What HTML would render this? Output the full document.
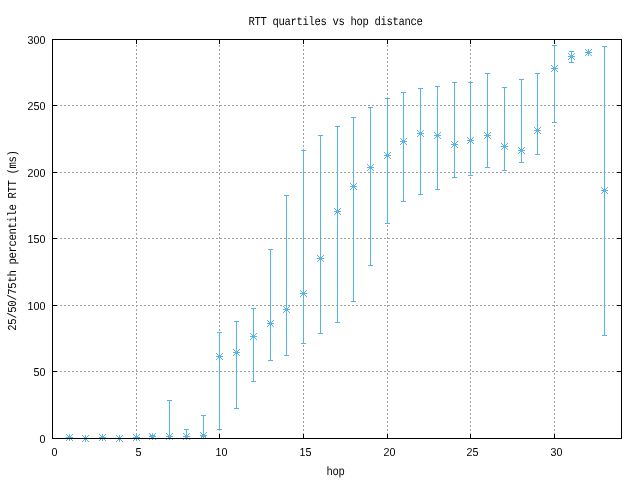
<!DOCTYPE html>
<html lang="en"><head><meta charset="utf-8"><title>RTT quartiles vs hop distance</title>
<style>html,body{margin:0;padding:0;background:#fff;overflow:hidden}svg{display:block}text{font-family:"Liberation Mono", monospace;font-size:12.15px;fill:#000;white-space:pre;text-rendering:geometricPrecision}.z{font-family:"Liberation Sans",sans-serif;font-size:11.63px}</style></head><body>
<svg width="640" height="480" viewBox="0 0 640 480" shape-rendering="crispEdges">
<rect width="640" height="480" fill="#fff"/>
<defs><g id="s"><rect x="-3" y="0" width="7" height="1"/><rect x="0" y="-3" width="1" height="7"/><rect x="-3" y="-3" width="1" height="1"/><rect x="-3" y="3" width="1" height="1"/><rect x="-2" y="-2" width="1" height="1"/><rect x="-2" y="2" width="1" height="1"/><rect x="-1" y="-1" width="1" height="1"/><rect x="-1" y="1" width="1" height="1"/><rect x="1" y="1" width="1" height="1"/><rect x="1" y="-1" width="1" height="1"/><rect x="2" y="2" width="1" height="1"/><rect x="2" y="-2" width="1" height="1"/><rect x="3" y="3" width="1" height="1"/><rect x="3" y="-3" width="1" height="1"/></g></defs>
<g stroke="#a0a0a0" stroke-width="1" stroke-dasharray="2 2" fill="none"><path d="M52 371.5H622"/><path d="M52 305.5H622"/><path d="M52 238.5H622"/><path d="M52 172.5H622"/><path d="M52 105.5H622"/><path d="M136.5 439V39"/><path d="M219.5 439V39"/><path d="M303.5 439V39"/><path d="M387.5 439V39"/><path d="M470.5 439V39"/><path d="M554.5 439V39"/></g>
<g fill="#000"><rect x="136" y="434" width="1" height="4"/><rect x="136" y="40" width="1" height="4"/><rect x="219" y="434" width="1" height="4"/><rect x="219" y="40" width="1" height="4"/><rect x="303" y="434" width="1" height="4"/><rect x="303" y="40" width="1" height="4"/><rect x="387" y="434" width="1" height="4"/><rect x="387" y="40" width="1" height="4"/><rect x="470" y="434" width="1" height="4"/><rect x="470" y="40" width="1" height="4"/><rect x="554" y="434" width="1" height="4"/><rect x="554" y="40" width="1" height="4"/><rect x="53" y="371" width="4" height="1"/><rect x="617" y="371" width="4" height="1"/><rect x="53" y="305" width="4" height="1"/><rect x="617" y="305" width="4" height="1"/><rect x="53" y="238" width="4" height="1"/><rect x="617" y="238" width="4" height="1"/><rect x="53" y="172" width="4" height="1"/><rect x="617" y="172" width="4" height="1"/><rect x="53" y="105" width="4" height="1"/><rect x="617" y="105" width="4" height="1"/></g>
<g fill="#56b4e9"><use href="#s" x="69" y="437"/><use href="#s" x="85" y="438"/><use href="#s" x="102" y="437"/><use href="#s" x="119" y="438"/><use href="#s" x="136" y="437"/><rect x="152" y="435" width="1" height="2"/><rect x="150" y="435" width="5" height="1"/><rect x="150" y="436" width="5" height="1"/><use href="#s" x="152" y="436"/><rect x="169" y="400" width="1" height="37"/><rect x="167" y="400" width="5" height="1"/><rect x="167" y="436" width="5" height="1"/><use href="#s" x="169" y="436"/><rect x="186" y="429" width="1" height="8"/><rect x="184" y="429" width="5" height="1"/><rect x="184" y="436" width="5" height="1"/><use href="#s" x="186" y="436"/><rect x="203" y="415" width="1" height="22"/><rect x="201" y="415" width="5" height="1"/><rect x="201" y="436" width="5" height="1"/><use href="#s" x="203" y="435"/><rect x="219" y="332" width="1" height="98"/><rect x="217" y="332" width="5" height="1"/><rect x="217" y="429" width="5" height="1"/><use href="#s" x="219" y="356"/><rect x="236" y="321" width="1" height="88"/><rect x="234" y="321" width="5" height="1"/><rect x="234" y="408" width="5" height="1"/><use href="#s" x="236" y="352"/><rect x="253" y="308" width="1" height="74"/><rect x="251" y="308" width="5" height="1"/><rect x="251" y="381" width="5" height="1"/><use href="#s" x="253" y="336"/><rect x="270" y="249" width="1" height="112"/><rect x="268" y="249" width="5" height="1"/><rect x="268" y="360" width="5" height="1"/><use href="#s" x="270" y="323"/><rect x="286" y="195" width="1" height="161"/><rect x="284" y="195" width="5" height="1"/><rect x="284" y="355" width="5" height="1"/><use href="#s" x="286" y="309"/><rect x="303" y="150" width="1" height="194"/><rect x="301" y="150" width="5" height="1"/><rect x="301" y="343" width="5" height="1"/><use href="#s" x="303" y="293"/><rect x="320" y="135" width="1" height="199"/><rect x="318" y="135" width="5" height="1"/><rect x="318" y="333" width="5" height="1"/><use href="#s" x="320" y="258"/><rect x="337" y="126" width="1" height="197"/><rect x="335" y="126" width="5" height="1"/><rect x="335" y="322" width="5" height="1"/><use href="#s" x="337" y="211"/><rect x="353" y="117" width="1" height="185"/><rect x="351" y="117" width="5" height="1"/><rect x="351" y="301" width="5" height="1"/><use href="#s" x="353" y="186"/><rect x="370" y="107" width="1" height="159"/><rect x="368" y="107" width="5" height="1"/><rect x="368" y="265" width="5" height="1"/><use href="#s" x="370" y="167"/><rect x="387" y="98" width="1" height="126"/><rect x="385" y="98" width="5" height="1"/><rect x="385" y="223" width="5" height="1"/><use href="#s" x="387" y="155"/><rect x="403" y="92" width="1" height="110"/><rect x="401" y="92" width="5" height="1"/><rect x="401" y="201" width="5" height="1"/><use href="#s" x="403" y="141"/><rect x="420" y="88" width="1" height="107"/><rect x="418" y="88" width="5" height="1"/><rect x="418" y="194" width="5" height="1"/><use href="#s" x="420" y="133"/><rect x="437" y="86" width="1" height="104"/><rect x="435" y="86" width="5" height="1"/><rect x="435" y="189" width="5" height="1"/><use href="#s" x="437" y="135"/><rect x="454" y="82" width="1" height="96"/><rect x="452" y="82" width="5" height="1"/><rect x="452" y="177" width="5" height="1"/><use href="#s" x="454" y="144"/><rect x="470" y="82" width="1" height="94"/><rect x="468" y="82" width="5" height="1"/><rect x="468" y="175" width="5" height="1"/><use href="#s" x="470" y="140"/><rect x="487" y="73" width="1" height="95"/><rect x="485" y="73" width="5" height="1"/><rect x="485" y="167" width="5" height="1"/><use href="#s" x="487" y="135"/><rect x="504" y="87" width="1" height="84"/><rect x="502" y="87" width="5" height="1"/><rect x="502" y="170" width="5" height="1"/><use href="#s" x="504" y="146"/><rect x="521" y="79" width="1" height="84"/><rect x="519" y="79" width="5" height="1"/><rect x="519" y="162" width="5" height="1"/><use href="#s" x="521" y="150"/><rect x="537" y="73" width="1" height="82"/><rect x="535" y="73" width="5" height="1"/><rect x="535" y="154" width="5" height="1"/><use href="#s" x="537" y="130"/><rect x="554" y="45" width="1" height="78"/><rect x="552" y="45" width="5" height="1"/><rect x="552" y="122" width="5" height="1"/><use href="#s" x="554" y="68"/><rect x="571" y="51" width="1" height="12"/><rect x="569" y="51" width="5" height="1"/><rect x="569" y="62" width="5" height="1"/><use href="#s" x="571" y="56"/><use href="#s" x="588" y="52"/><rect x="604" y="46" width="1" height="290"/><rect x="602" y="46" width="5" height="1"/><rect x="602" y="335" width="5" height="1"/><use href="#s" x="604" y="190"/></g>
<g fill="#000"><rect x="52" y="39" width="570" height="1"/><rect x="52" y="438" width="570" height="1"/><rect x="52" y="39" width="1" height="400"/><rect x="621" y="39" width="1" height="400"/></g>
<g opacity="0.999"><text transform="translate(249 25) scale(0.87 1)" x="-0.69 6.21 13.1 20 26.9 33.79 40.69 47.59 54.48 61.38 68.28 75.17 82.07 88.97 95.86 102.76 109.66 116.55 123.45 130.34 137.24 144.14 151.03 157.93 164.83 171.72 178.62 185.52 192.41">RTT quartiles vs hop distance</text><text class="z" transform="translate(52 456) scale(0.92 1)" x="-0.52">0</text><text class="z" transform="translate(136 456) scale(0.92 1)" x="-0.51">5</text><text class="z" transform="translate(216 456) scale(0.92 1)" x="-0.68 6.01">10</text><text class="z" transform="translate(300 456) scale(0.92 1)" x="-0.68 6.02">15</text><text class="z" transform="translate(384 456) scale(0.92 1)" x="-0.52 6.01">20</text><text class="z" transform="translate(467 456) scale(0.92 1)" x="-0.52 6.02">25</text><text class="z" transform="translate(551 456) scale(0.92 1)" x="-0.48 6.01">30</text><text class="z" transform="translate(40 443) scale(0.92 1)" x="-0.52">0</text><text class="z" transform="translate(34 376) scale(0.92 1)" x="-0.51 6.01">50</text><text class="z" transform="translate(28 310) scale(0.92 1)" x="-0.68 6.01 12.53">100</text><text class="z" transform="translate(28 243) scale(0.92 1)" x="-0.68 6.02 12.53">150</text><text class="z" transform="translate(28 177) scale(0.92 1)" x="-0.52 6.01 12.53">200</text><text class="z" transform="translate(28 110) scale(0.92 1)" x="-0.52 6.02 12.53">250</text><text class="z" transform="translate(28 44) scale(0.92 1)" x="-0.48 6.01 12.53">300</text><text transform="translate(327 475) scale(0.87 1)" x="-0.69 6.21 13.1">hop</text><text transform="translate(16 330) rotate(-90) scale(0.87 1)" x="-0.77 6.13 13.1 19.92 26.82 33.79 40.61 47.51 54.48 61.38 68.28 75.17 82.07 88.97 95.86 102.76 109.66 116.55 123.45 130.34 137.24 144.14 151.03 157.93 164.83 171.72 178.62 185.52 192.41 199.31">25/50/75th percentile RTT (ms)</text></g>
</svg></body></html>
